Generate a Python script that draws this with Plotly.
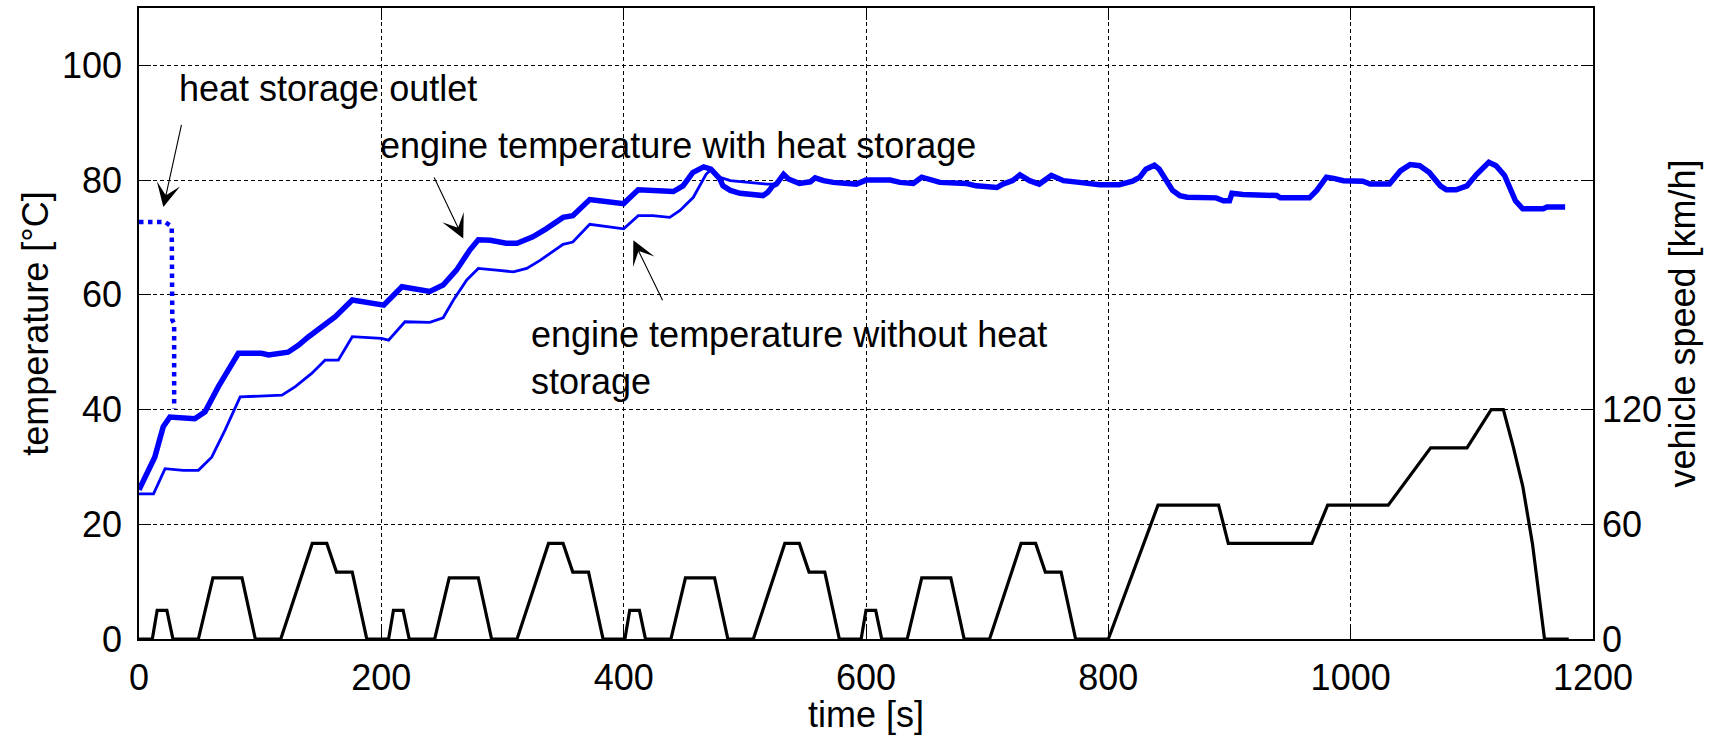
import plotly.graph_objects as go

# ---------------- data ----------------
t_with = [0, 5, 13, 20, 25.5, 46, 54.5, 65.5, 82, 101, 107, 123, 131.5, 140, 153.5, 162, 176,
          198, 202, 217, 240, 251, 262, 273, 280, 290, 303, 312, 325, 336, 350, 358, 372, 380,
          394, 400, 412, 424, 441, 449, 457, 466, 472, 479, 482, 488, 496, 515, 519, 523, 526,
          532, 536, 545, 554, 558, 565, 573, 584, 592, 600, 620, 628, 639, 646, 653, 661, 683,
          691, 708, 713, 721, 727, 735, 743, 753, 763, 776, 793, 809, 820, 826, 831, 838, 842,
          848, 853, 859, 865, 889, 895, 900, 902, 911, 939, 942, 966, 972, 980, 986, 994, 1010,
          1016, 1032, 1041, 1049, 1057, 1065, 1074, 1079, 1087, 1096, 1104, 1114, 1120, 1127,
          1131, 1136, 1142, 1159, 1162, 1177]
temp_with = [26.0, 28.3, 31.7, 37.0, 38.7, 38.4, 39.6, 44.0, 49.8, 49.8, 49.5, 50.0, 51.2, 52.7,
             55.0, 56.2, 59.1, 58.5, 58.2, 61.4, 60.6, 61.7, 64.3, 67.8, 69.6, 69.5, 69.0, 69.0,
             70.1, 71.5, 73.5, 73.8, 76.6, 76.4, 76.0, 75.9, 78.3, 78.2, 78.0, 79.0, 81.3, 82.3,
             81.9, 80.3, 79.0, 78.2, 77.7, 77.3, 77.9, 79.0, 79.3, 81.0, 80.2, 79.4, 79.7, 80.4,
             79.9, 79.6, 79.3, 79.3, 80.0, 80.0, 79.6, 79.4, 80.5, 80.0, 79.6, 79.4, 79.0, 78.7,
             79.3, 79.9, 80.9, 79.9, 79.3, 80.8, 79.9, 79.6, 79.2, 79.2, 79.8, 80.5, 81.9, 82.6,
             81.9, 79.9, 78.2, 77.3, 77.0, 76.9, 76.4, 76.4, 77.7, 77.5, 77.3, 76.9, 76.9, 78.2,
             80.5, 80.3, 79.9, 79.8, 79.3, 79.3, 81.6, 82.7, 82.5, 81.3, 79.0, 78.3, 78.3, 79.0,
             81.0, 83.1, 82.5, 80.8, 79.0, 76.4, 75.0, 75.0, 75.3, 75.3]

t_without = [0, 12, 21.5, 36.5, 49, 60, 71, 83.5, 118, 129, 142.5, 153.5, 164.5, 176, 200, 206,
             219.5, 240, 251, 259.5, 270.5, 280, 295, 309, 320, 331, 350, 358, 372, 386, 400,
             412, 424, 438, 446.5, 457.5, 468, 472.5, 479.5, 488, 501, 518, 526]
temp_without = [25.3, 25.3, 29.7, 29.4, 29.4, 31.7, 36.4, 42.2, 42.5, 44.0, 46.3, 48.6, 48.6,
                52.7, 52.4, 52.1, 55.3, 55.2, 56.0, 59.1, 62.6, 64.6, 64.3, 64.0, 64.6, 66.0,
                68.8, 69.2, 72.3, 71.9, 71.5, 73.8, 73.8, 73.5, 74.7, 77.0, 81.0, 81.9, 80.5,
                79.9, 79.6, 79.3, 79.3]

t_outlet = [0, 21.5, 27, 27.5, 29, 29]
temp_outlet = [72.7, 72.7, 71.9, 55.6, 55.0, 40.2]

t_speed = [0, 11, 15, 23, 28, 49, 61, 85, 96, 117, 143, 155, 163, 176, 188,
           206, 210, 218, 223, 244, 256, 280, 291, 312, 338, 350, 358, 371, 383,
           401, 405, 413, 418, 439, 451, 475, 486, 507, 533, 545, 553, 566, 578,
           596, 600, 608, 613, 634, 646, 670, 681, 702, 728, 740, 748, 761, 773,
           800, 841, 891, 899, 968, 981, 1031, 1066, 1096, 1116, 1126,
           1134, 1142, 1150, 1160, 1180]
speed = [0, 0, 15, 15, 0, 0, 32, 32, 0, 0, 50, 50, 35, 35, 0,
         0, 15, 15, 0, 0, 32, 32, 0, 0, 50, 50, 35, 35, 0,
         0, 15, 15, 0, 0, 32, 32, 0, 0, 50, 50, 35, 35, 0,
         0, 15, 15, 0, 0, 32, 32, 0, 0, 50, 50, 35, 35, 0,
         0, 70, 70, 50, 50, 70, 70, 100, 100, 120, 120,
         101, 80, 50, 0, 0]

x_ticks = [0, 200, 400, 600, 800, 1000, 1200]
y_ticks = [0, 20, 40, 60, 80, 100]
y2_ticks = [0, 60, 120]

FONT = "Liberation Sans, Arial, Helvetica, sans-serif"

fig = go.Figure()
fig.add_trace(go.Scatter(x=t_speed, y=speed, yaxis="y2", mode="lines",
                         line=dict(color="black", width=3.2), name="vehicle speed"))
fig.add_trace(go.Scatter(x=t_without, y=temp_without, mode="lines",
                         line=dict(color="#0000ff", width=2.8),
                         name="engine temperature without heat storage"))
fig.add_trace(go.Scatter(x=t_with, y=temp_with, mode="lines",
                         line=dict(color="#0000ff", width=5.5),
                         name="engine temperature with heat storage"))
fig.add_trace(go.Scatter(x=t_outlet, y=temp_outlet, mode="lines",
                         line=dict(color="#0000ff", width=4.5, dash="dot"),
                         name="heat storage outlet"))

axis_common = dict(showline=True, linecolor="black", linewidth=1.5, ticks="inside",
                   ticklen=12, tickcolor="black", tickwidth=1,
                   tickfont=dict(family=FONT, size=36, color="black"), zeroline=False)

fig.update_layout(
    width=1729, height=735,
    margin=dict(l=139, r=136, t=6, b=94),
    paper_bgcolor="white", plot_bgcolor="white",
    showlegend=False,
    font=dict(family=FONT, size=36, color="black"),
    xaxis=dict(range=[0, 1200], tickvals=x_ticks, mirror="ticks",
               showgrid=True, gridcolor="black", gridwidth=1, griddash="4px,3px",
               ticklabelstandoff=6,
               title=dict(text="time [s]", font=dict(family=FONT, size=36), standoff=6),
               **axis_common),
    yaxis=dict(range=[0, 110], tickvals=y_ticks, mirror="ticks",
               showgrid=True, gridcolor="black", gridwidth=1, griddash="4px,3px",
               ticklabelstandoff=8,
               title=dict(text="temperature [°C]", font=dict(family=FONT, size=36), standoff=2),
               **axis_common),
    yaxis2=dict(range=[0, 330], tickvals=y2_ticks, overlaying="y", side="right",
                showgrid=False, showline=False, ticks="inside", ticklen=12,
                tickcolor="black", tickwidth=1, zeroline=False,
                tickfont=dict(family=FONT, size=36, color="black"),
                ticklabelstandoff=8,
                title=dict(text="vehicle speed [km/h]", font=dict(family=FONT, size=36), standoff=6)),
)

# text labels
fig.add_annotation(x=31, y=95.9, text="heat storage outlet", showarrow=False,
                   xanchor="left", yanchor="middle", font=dict(family=FONT, size=36))
fig.add_annotation(x=197.5, y=86.0, text="engine temperature with heat storage", showarrow=False,
                   xanchor="left", yanchor="middle", font=dict(family=FONT, size=36))
fig.add_annotation(x=321.5, y=49.0, text="engine temperature without heat<br>storage",
                   showarrow=False, align="left",
                   xanchor="left", yanchor="middle", font=dict(family=FONT, size=36))

# arrows (tail -> tip)
for (tx, ty, hx, hy) in [(35.3, 89.9, 20.1, 75.3), (243, 80.7, 267.6, 69.8), (432.7, 58.8, 408, 69.5)]:
    fig.add_annotation(x=hx, y=hy, ax=tx, ay=ty, axref="x", ayref="y", xref="x", yref="y",
                       text="", showarrow=True, arrowhead=3, arrowsize=3.6, arrowwidth=1.1,
                       arrowcolor="black")

fig.write_html("out.html")
